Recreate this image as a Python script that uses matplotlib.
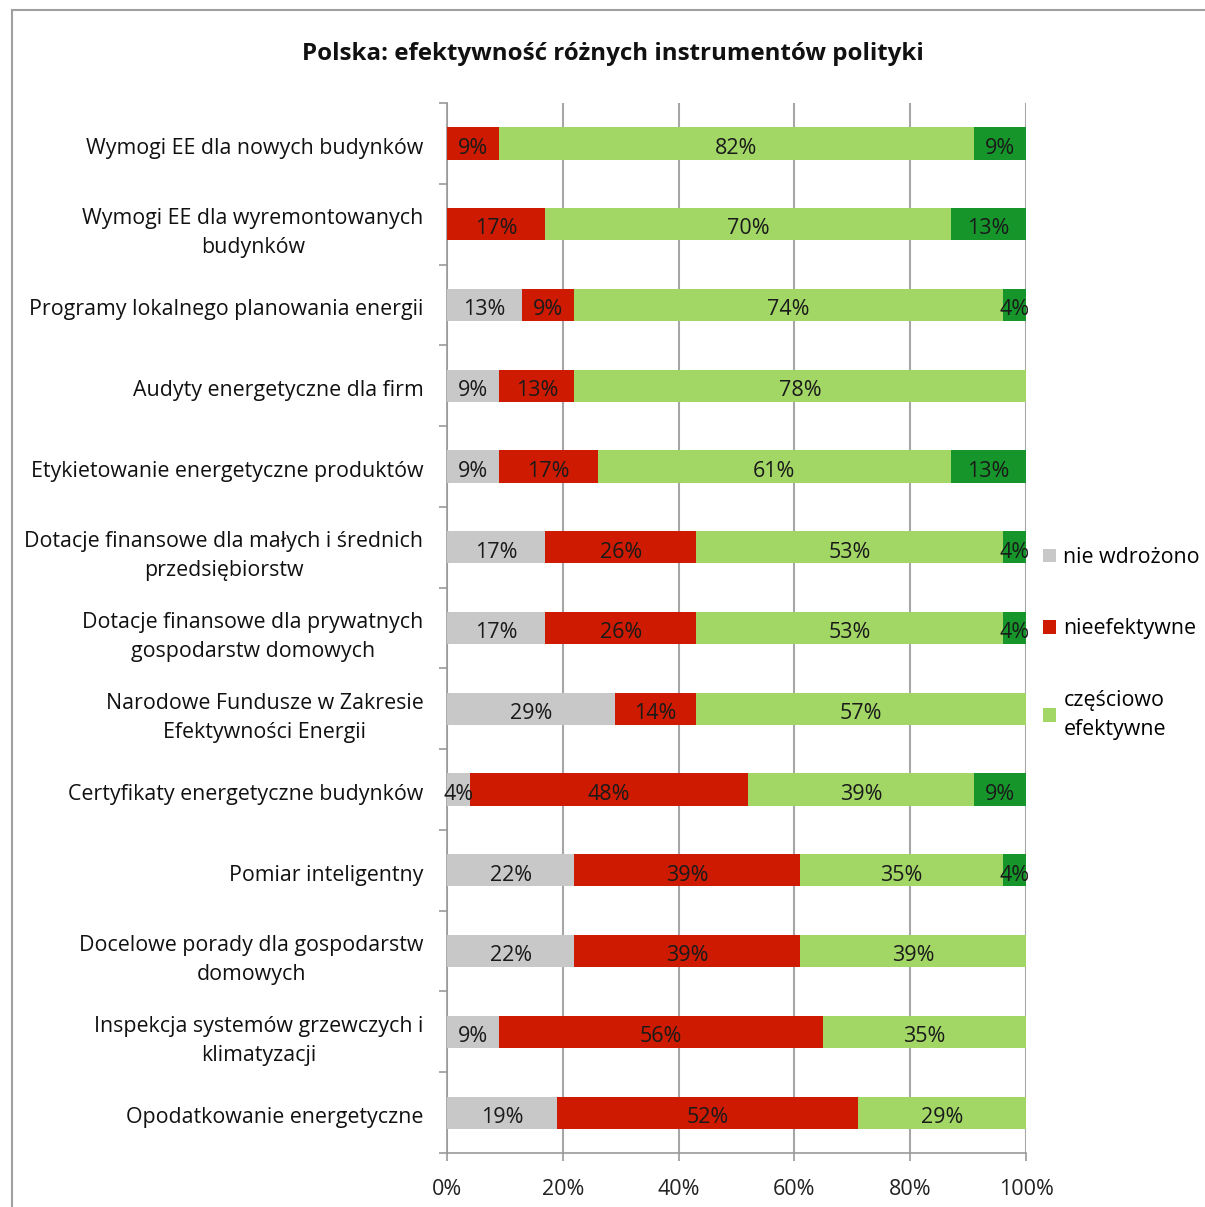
import matplotlib
matplotlib.use("Agg")
import matplotlib.pyplot as plt
import matplotlib.patches as mpatches
import numpy as np

plt.rcParams['font.family'] = ['Open Sans', 'DejaVu Sans']

categories = [
    "Wymogi EE dla nowych budynków",
    "Wymogi EE dla wyremontowanych\nbudynków",
    "Programy lokalnego planowania energii",
    "Audyty energetyczne dla firm",
    "Etykietowanie energetyczne produktów",
    "Dotacje finansowe dla małych i średnich\nprzedsiębiorstw",
    "Dotacje finansowe dla prywatnych\ngospodarstw domowych",
    "Narodowe Fundusze w Zakresie\nEfektywności Energii",
    "Certyfikaty energetyczne budynków",
    "Pomiar inteligentny",
    "Docelowe porady dla gospodarstw\ndomowych",
    "Inspekcja systemów grzewczych i\nklimatyzacji",
    "Opodatkowanie energetyczne",
]
nie_wdrozono = [0, 0, 13, 9, 9, 17, 17, 29, 4, 22, 22, 9, 19]
nieefektywne = [9, 17, 9, 13, 17, 26, 26, 14, 48, 39, 39, 56, 52]
czesciowo = [82, 70, 74, 78, 61, 53, 53, 57, 39, 35, 39, 35, 29]
efektywne = [9, 13, 4, 0, 13, 4, 4, 0, 9, 4, 0, 0, 0]

series = [nie_wdrozono, nieefektywne, czesciowo, efektywne]
names = ["nie wdrożono", "nieefektywne", "częściowo\nefektywne", "efektywne"]
colors = ["#c8c8c8", "#cd1a00", "#a2d766", "#16962a"]

fig = plt.figure(figsize=(12.05, 12.07), dpi=100)
ax = fig.add_axes([0.371, 0.0447, 0.4805, 0.870])

y = np.arange(len(categories))
left = np.zeros(len(categories))
handles = []
for vals, name, col in zip(series, names, colors):
    vals = np.array(vals, dtype=float)
    bars = ax.barh(y, vals, left=left, height=0.4, color=col, label=name, zorder=3)
    handles.append(bars)
    for yi, l, v in zip(y, left, vals):
        if v > 0:
            ax.text(l + v / 2, yi + 0.06, f"{int(v)}%", ha='center', va='center',
                    fontsize=15.5, color='#1a1a1a', zorder=4)
    left += vals

ax.set_xlim(0, 100)
ax.set_ylim(len(categories) - 0.5, -0.5)
ax.set_xticks(np.arange(0, 101, 20))
ax.set_xticklabels([f"{v}%" for v in range(0, 101, 20)], fontsize=15.5, color='#222222')
ax.set_yticks(y + 0.03)
ax.set_yticklabels(categories, fontsize=15.4, color='#111111')
for lbl in ax.get_yticklabels():
    lbl.set_multialignment('center')
    lbl.set_linespacing(1.52)
ax.set_yticks(np.arange(-0.5, len(categories) + 0.5, 1), minor=True)
ax.tick_params(axis='y', which='major', length=0, pad=17)
ax.tick_params(axis='y', which='minor', length=6, color='#999999', width=1.2)
ax.tick_params(axis='x', which='major', length=6, color='#999999', width=1.2, pad=13)

ax.grid(axis='x', color='#a6a6a6', linewidth=1.5, zorder=0)
for s in ['top', 'right']:
    ax.spines[s].set_visible(False)
for s in ['left', 'bottom']:
    ax.spines[s].set_color('#999999')
    ax.spines[s].set_linewidth(1.2)

fig.text(613 / 1205, 1 - 54 / 1207, "Polska: efektywność różnych instrumentów polityki",
         ha='center', va='center', fontsize=17.4, fontweight='bold', color='#111111')

leg = ax.legend(handles=handles[:3], labels=names[:3], loc='upper left',
                bbox_to_anchor=(1043 / 1205, 1 - 547 / 1207), bbox_transform=fig.transFigure,
                frameon=False, fontsize=15.4, handlelength=0.6, handleheight=0.6,
                handletextpad=0.35, labelspacing=2.35, borderaxespad=0, borderpad=0)
for t in leg.get_texts():
    t.set_linespacing(1.52)

frame = mpatches.Rectangle((12 / 1205, -0.05), 1.1, 1 - 10 / 1207 + 0.05,
                           transform=fig.transFigure, fill=False,
                           edgecolor='#a0a0a0', linewidth=1.5)
fig.patches.append(frame)

fig.savefig("out.png", dpi=100)
